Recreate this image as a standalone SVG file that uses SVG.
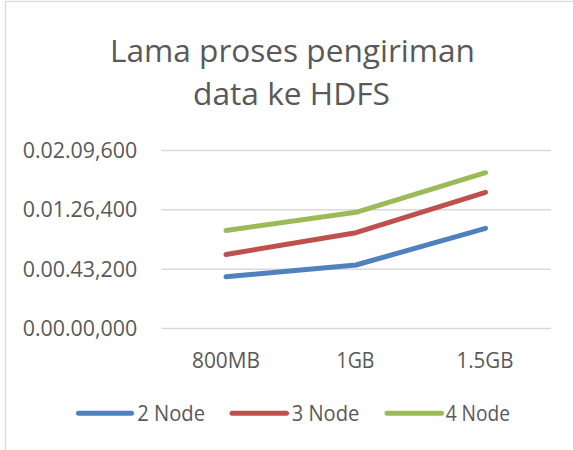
<svg xmlns="http://www.w3.org/2000/svg" width="573" height="450" viewBox="0 0 573 450">
  <style>
    text { font-family: "Open Sans", "Liberation Sans", sans-serif; fill: #595959; }
    .title { font-size: 31px; text-anchor: middle; }
    .axis { font-size: 21.5px; }
    .ylab { text-anchor: end; }
    .xlab { text-anchor: middle; }
    .grid { stroke: #d9d9d9; stroke-width: 1.4; fill: none; }
    .series { fill: none; stroke-width: 5; stroke-linecap: round; stroke-linejoin: round; }
    .s2 { stroke: #4f81bd; }
    .s3 { stroke: #c0504d; }
    .s4 { stroke: #9bbb59; }
  </style>
  <rect x="0" y="0" width="573" height="450" fill="#ffffff"/>
  <g id="frame">
    <rect x="5.5" y="1.5" width="600" height="500" fill="#ffffff" stroke="#d9d9d9" stroke-width="1.3"/>
  </g>
  <g id="title">
    <text class="title" x="292.5" y="62" textLength="365" lengthAdjust="spacingAndGlyphs">Lama proses pengiriman</text>
    <text class="title" x="291.5" y="105" textLength="197" lengthAdjust="spacingAndGlyphs">data ke HDFS</text>
  </g>
  <g id="gridlines">
    <line class="grid" x1="161.5" y1="150.5" x2="551" y2="150.5"/>
    <line class="grid" x1="161.5" y1="209.8" x2="551" y2="209.8"/>
    <line class="grid" x1="161.5" y1="269.2" x2="551" y2="269.2"/>
    <line class="grid" x1="161.5" y1="328.5" x2="551" y2="328.5"/>
  </g>
  <g id="y-axis">
    <text class="axis ylab" x="137.3" y="158" textLength="114.6" lengthAdjust="spacingAndGlyphs">0.02.09,600</text>
    <text class="axis ylab" x="137.3" y="217.3" textLength="114.6" lengthAdjust="spacingAndGlyphs">0.01.26,400</text>
    <text class="axis ylab" x="137.3" y="276.7" textLength="114.6" lengthAdjust="spacingAndGlyphs">0.00.43,200</text>
    <text class="axis ylab" x="137.3" y="336" textLength="114.6" lengthAdjust="spacingAndGlyphs">0.00.00,000</text>
  </g>
  <g id="x-axis">
    <text class="axis xlab" x="226" y="367.5" textLength="68" lengthAdjust="spacingAndGlyphs">800MB</text>
    <text class="axis xlab" x="355.5" y="367.5" textLength="38" lengthAdjust="spacingAndGlyphs">1GB</text>
    <text class="axis xlab" x="485" y="367.5" textLength="57" lengthAdjust="spacingAndGlyphs">1.5GB</text>
  </g>
  <g id="connectors">
    <polyline id="series-2-node" class="series s2" points="226,276.7 356,265 485.5,228.3"/>
    <polyline id="series-3-node" class="series s3" points="226,254.5 356,232.7 485.5,192.3"/>
    <polyline id="series-4-node" class="series s4" points="226,230.5 356,212.3 485.5,172.7"/>
  </g>
  <g id="legend">
    <g id="legend-2-node">
      <line class="series s2" x1="78.5" y1="413.3" x2="131.5" y2="413.3"/>
      <text class="axis" x="137.3" y="421" textLength="67.7" lengthAdjust="spacingAndGlyphs">2 Node</text>
    </g>
    <g id="legend-3-node">
      <line class="series s3" x1="232" y1="413.3" x2="286.5" y2="413.3"/>
      <text class="axis" x="291.7" y="421" textLength="67.6" lengthAdjust="spacingAndGlyphs">3 Node</text>
    </g>
    <g id="legend-4-node">
      <line class="series s4" x1="387" y1="413.3" x2="441.5" y2="413.3"/>
      <text class="axis" x="445.7" y="421" textLength="64.3" lengthAdjust="spacingAndGlyphs">4 Node</text>
    </g>
  </g>
</svg>
